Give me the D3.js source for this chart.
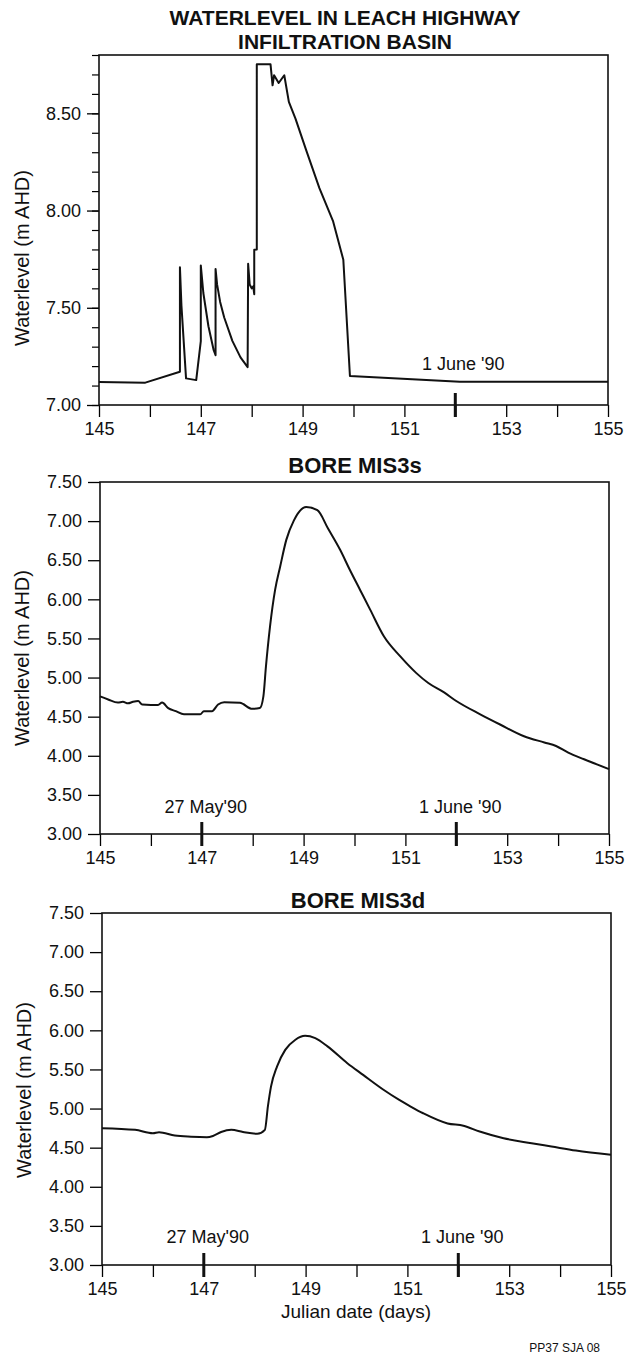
<!DOCTYPE html>
<html>
<head>
<meta charset="utf-8">
<script src="https://cdn.jsdelivr.net/npm/d3@7"></script>
<style>
  body { margin: 0; background: #fff; }
  text { font-family: "Liberation Sans", Arial, Helvetica, sans-serif; fill: #111; }
</style>
</head>
<body>
<div id="chart"></div>
<script>
// Waterlevels - Leach Highway basin and bores MIS3s / MIS3d

var xTicks = [145, 146, 147, 148, 149, 150, 151, 152, 153, 154, 155];
var xTickLabels = [145, 147, 149, 151, 153, 155];
var basinYTicks = [7.0, 7.5, 8.0, 8.5];
var boreYTicks = [3.0, 3.5, 4.0, 4.5, 5.0, 5.5, 6.0, 6.5, 7.0, 7.5];

var markDays = [147, 152];
var markLabels = ["27 May'90", "1 June '90"];

var basinDays = [145, 145.91, 146.59, 146.59, 146.62, 146.71, 146.91, 147.0, 147.0, 147.05,
  147.15, 147.25, 147.29, 147.29, 147.32, 147.38, 147.46, 147.62, 147.78, 147.92,
  147.93, 147.96, 148.0, 148.03, 148.05, 148.05, 148.1, 148.1, 148.37, 148.41,
  148.44, 148.53, 148.64, 148.73, 148.86, 149.07, 149.33, 149.6, 149.8, 149.93,
  152.09, 155];
var basinLevels = [7.118, 7.115, 7.171, 7.708, 7.51, 7.137, 7.128, 7.328, 7.718, 7.576,
  7.405, 7.285, 7.256, 7.70, 7.62, 7.53, 7.45, 7.33, 7.245, 7.195,
  7.726, 7.62, 7.60, 7.61, 7.57, 7.798, 7.80, 8.752, 8.752, 8.644,
  8.696, 8.656, 8.696, 8.559, 8.473, 8.311, 8.115, 7.944, 7.747, 7.149,
  7.12, 7.12];

var mis3sDays = [145, 145.16, 145.35, 145.45, 145.55, 145.65, 145.75, 145.83, 146.0, 146.14,
  146.22, 146.34, 146.49, 146.65, 146.97, 147.04, 147.2, 147.32, 147.44, 147.75,
  147.99, 148.14, 148.21, 148.26, 148.34, 148.44, 148.54, 148.66, 148.81, 149.05,
  149.27, 149.48, 149.72, 149.91, 150.11, 150.31, 150.58, 150.9, 151.21, 151.45,
  151.76, 152.0, 152.47, 152.86, 153.33, 153.73, 153.96, 154.2, 154.51, 155];
var mis3sLevels = [4.76, 4.72, 4.68, 4.69, 4.67, 4.69, 4.70, 4.655, 4.65, 4.65,
  4.68, 4.61, 4.57, 4.53, 4.53, 4.57, 4.57, 4.655, 4.685, 4.677,
  4.60, 4.61, 4.76, 5.14, 5.65, 6.12, 6.42, 6.76, 7.01, 7.18,
  7.14, 6.905, 6.63, 6.375, 6.12, 5.865, 5.525, 5.27, 5.06, 4.93,
  4.81, 4.70, 4.53, 4.40, 4.25, 4.17, 4.125, 4.04, 3.955, 3.83];

var mis3dDays = [145, 145.65, 146.0, 146.12, 146.43, 146.75, 147.06, 147.18, 147.34, 147.54,
  147.77, 148.05, 148.2, 148.26, 148.32, 148.44, 148.6, 148.8, 148.99, 149.19,
  149.43, 149.82, 150.13, 150.53, 150.84, 151.04, 151.31, 151.79, 152.1, 152.42,
  152.89, 153.44, 153.83, 154.31, 155];
var mis3dLevels = [4.749, 4.728, 4.685, 4.698, 4.655, 4.64, 4.634, 4.65, 4.70, 4.728,
  4.70, 4.677, 4.728, 5.03, 5.28, 5.54, 5.75, 5.88, 5.93, 5.90,
  5.795, 5.58, 5.43, 5.24, 5.11, 5.035, 4.94, 4.81, 4.78, 4.706,
  4.62, 4.557, 4.515, 4.463, 4.408];

var width = 627, height = 1362;

var svg = d3.select('#chart')
  .append('svg')
    .attr('width', width)
    .attr('height', height)
    .attr('viewBox', [0, 0, width, height]);

var panel = function(p) {
  var x = d3.scaleLinear().domain([145, 155]).range([p.left, p.right]);
  var y = d3.scaleLinear().domain(p.yDomain).range([p.bottom, p.top]);
  var g = svg.append('g');

  p.title.forEach((t, i) => g.append('text')
      .attr('x', p.titleX)
      .attr('y', p.titleY + i * 24)
      .attr('text-anchor', 'middle')
      .attr('font-weight', 'bold')
      .attr('font-size', p.titleSize)
      .text(t));

  // x axis, ticks every day, labels on odd days
  g.append('g')
      .attr('transform', 'translate(0,' + p.bottom + ')')
      .call(d3.axisBottom(x).tickValues(xTicks).tickSize(12).tickPadding(5)
        .tickFormat(d => xTickLabels.includes(d) ? d : ''))
      .attr('font-family', null)
      .attr('font-size', 18)
      .call(g => g.select('.domain').remove())
      .call(g => g.selectAll('.tick line').attr('stroke-width', 1.3));

  if (p.minor) {
    g.append('g')
        .attr('transform', 'translate(' + p.left + ',0)')
        .call(d3.axisLeft(y).tickValues(y.ticks(18)).tickSize(7).tickFormat(''))
        .call(g => g.select('.domain').remove())
        .call(g => g.selectAll('.tick line').attr('stroke-width', 1.2));
  }

  g.append('g')
      .attr('transform', 'translate(' + p.left + ',0)')
      .call(d3.axisLeft(y).tickValues(p.yTicks).tickSize(12).tickPadding(6)
        .tickFormat(d3.format('.2f')))
      .attr('font-family', null)
      .attr('font-size', 18)
      .call(g => g.select('.domain').remove())
      .call(g => g.selectAll('.tick line').attr('stroke-width', 1.3));

  g.append('rect')
      .attr('x', p.left)
      .attr('y', p.top)
      .attr('width', p.right - p.left)
      .attr('height', p.bottom - p.top)
      .attr('fill', 'none')
      .attr('stroke', '#111')
      .attr('stroke-width', 1.6);

  g.append('text')
      .attr('transform', 'translate(' + p.labelX + ',' + p.labelY + ') rotate(-90)')
      .attr('text-anchor', 'middle')
      .attr('font-size', 20)
      .text('Waterlevel (m AHD)');

  // date marks
  var marks = p.marks.map(i => ({ day: markDays[i], label: markLabels[i] }));
  g.selectAll('.mark')
    .data(marks)
    .join('line')
      .attr('class', 'mark')
      .attr('x1', d => x(d.day))
      .attr('x2', d => x(d.day))
      .attr('y1', p.bottom - 12)
      .attr('y2', p.bottom + 12)
      .attr('stroke', '#111')
      .attr('stroke-width', 3);

  g.selectAll('.mark-label')
    .data(marks)
    .join('text')
      .attr('class', 'mark-label')
      .attr('x', d => x(d.day) + p.markDx)
      .attr('y', p.bottom - p.markDy)
      .attr('text-anchor', 'middle')
      .attr('font-size', 18)
      .text(d => d.label);

  var line = d3.line()
      .curve(p.curve)
      .x((d, i) => x(p.days[i]))
      .y(d => y(d));

  g.append('path')
      .attr('d', line(p.levels))
      .attr('fill', 'none')
      .attr('stroke', '#111')
      .attr('stroke-width', 2)
      .attr('stroke-linejoin', 'round');
};

panel({
  title: ['WATERLEVEL IN LEACH HIGHWAY', 'INFILTRATION BASIN'],
  titleX: 345, titleY: 25, titleSize: 21,
  left: 99, right: 608, top: 55, bottom: 405,
  yDomain: [7, 8.8], yTicks: basinYTicks, minor: true,
  labelX: 29, labelY: 258,
  marks: [1], markDx: 8, markDy: 35,
  days: basinDays, levels: basinLevels, curve: d3.curveLinear
});

panel({
  title: ['BORE MIS3s'],
  titleX: 355, titleY: 473, titleSize: 22,
  left: 100, right: 609, top: 482, bottom: 834,
  yDomain: [3, 7.5], yTicks: boreYTicks, minor: false,
  labelX: 29, labelY: 658,
  marks: [0, 1], markDx: 4, markDy: 21,
  days: mis3sDays, levels: mis3sLevels, curve: d3.curveMonotoneX
});

panel({
  title: ['BORE MIS3d'],
  titleX: 358, titleY: 908, titleSize: 22,
  left: 102, right: 611, top: 913, bottom: 1265,
  yDomain: [3, 7.5], yTicks: boreYTicks, minor: false,
  labelX: 31, labelY: 1090,
  marks: [0, 1], markDx: 4, markDy: 22,
  days: mis3dDays, levels: mis3dLevels, curve: d3.curveMonotoneX
});

svg.append('text')
    .attr('x', 356)
    .attr('y', 1318)
    .attr('text-anchor', 'middle')
    .attr('font-size', 19)
    .text('Julian date (days)');

svg.append('text')
    .attr('x', 600)
    .attr('y', 1352)
    .attr('text-anchor', 'end')
    .attr('font-size', 12)
    .text('PP37 SJA 08');
</script>
</body>
</html>
